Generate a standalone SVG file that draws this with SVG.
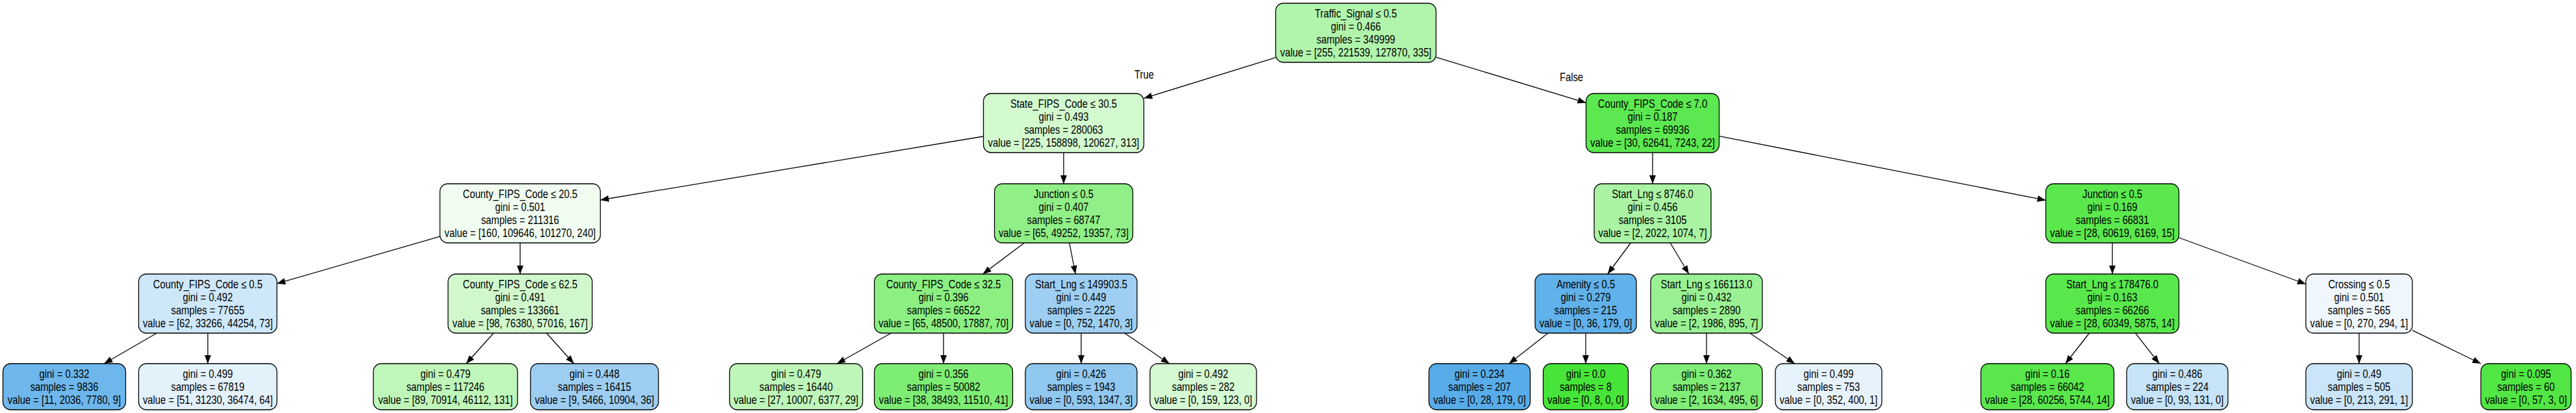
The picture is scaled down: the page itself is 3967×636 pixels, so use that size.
<svg xmlns="http://www.w3.org/2000/svg" width="3967" height="636" viewBox="0 0 3967 636">
<defs>
<marker id="ah" markerUnits="userSpaceOnUse" markerWidth="13" markerHeight="10" refX="13" refY="5" orient="auto">
<path d="M0,0 L13,5 L0,10 z" fill="#000"/>
</marker>
</defs>
<style>
.n rect { stroke:#000; stroke-width:1.3; }
text { font-family:"Liberation Sans", Arial, Helvetica, sans-serif; font-size:17.5px; text-anchor:middle; fill:#000; }
#edges line { stroke:#000; stroke-width:1.3; fill:none; marker-end:url(#ah); }
</style>
<rect width="3967" height="636" fill="#fff"/>
<g id="edges">
<line x1="1964.5" y1="88.65" x2="1761.5" y2="151.35"/>
<line x1="2211.5" y1="88.06" x2="2442.5" y2="158.32"/>
<line x1="1514.5" y1="210.01" x2="924.5" y2="307.99"/>
<line x1="1638" y1="235" x2="1638" y2="283"/>
<line x1="2545" y1="235" x2="2545" y2="283"/>
<line x1="2647.5" y1="209.62" x2="3150.5" y2="308.38"/>
<line x1="677.5" y1="364.19" x2="426.5" y2="436.72"/>
<line x1="801" y1="374" x2="801" y2="422"/>
<line x1="1577.45" y1="374" x2="1513.55" y2="422"/>
<line x1="1646.84" y1="374" x2="1656.16" y2="422"/>
<line x1="2511.29" y1="374" x2="2475.71" y2="422"/>
<line x1="2572.17" y1="374" x2="2600.83" y2="422"/>
<line x1="3253" y1="374" x2="3253" y2="422"/>
<line x1="3355.5" y1="365.99" x2="3551" y2="437.5"/>
<line x1="241.44" y1="513" x2="160.28" y2="560"/>
<line x1="320" y1="513" x2="320" y2="560"/>
<line x1="760.12" y1="513" x2="717.89" y2="560"/>
<line x1="841.71" y1="513" x2="883.75" y2="560"/>
<line x1="1372.3" y1="513" x2="1288.95" y2="560"/>
<line x1="1453" y1="513" x2="1453" y2="560"/>
<line x1="1665" y1="513" x2="1665" y2="560"/>
<line x1="1731.83" y1="513" x2="1800.87" y2="560"/>
<line x1="2383.88" y1="513" x2="2323.84" y2="560"/>
<line x1="2442" y1="513" x2="2442" y2="560"/>
<line x1="2628" y1="513" x2="2628" y2="560"/>
<line x1="2694.83" y1="513" x2="2763.87" y2="560"/>
<line x1="3217.45" y1="513" x2="3180.73" y2="560"/>
<line x1="3288.55" y1="513" x2="3325.27" y2="560"/>
<line x1="3633" y1="513" x2="3633" y2="560"/>
<line x1="3715" y1="508.6" x2="3820.5" y2="560"/>
<g transform="translate(1762 0) scale(.845 1)"><text x="0" y="121">True</text></g>
<g transform="translate(2420 0) scale(.845 1)"><text x="0" y="125">False</text></g>
</g>

<g id="n0" class="n"><rect x="1964.5" y="5" width="247" height="91" rx="12" fill="#b1f4ac"/>
<g transform="translate(2088 0) scale(.845 1)"><text x="0" y="27">Traffic_Signal ≤ 0.5</text><text x="0" y="47">gini = 0.466</text><text x="0" y="67">samples = 349999</text><text x="0" y="87">value = [255, 221539, 127870, 335]</text></g></g>

<g id="n1" class="n"><rect x="1514.5" y="144" width="247" height="91" rx="12" fill="#d3f9cf"/>
<g transform="translate(1638 0) scale(.845 1)"><text x="0" y="166">State_FIPS_Code ≤ 30.5</text><text x="0" y="186">gini = 0.493</text><text x="0" y="206">samples = 280063</text><text x="0" y="226">value = [225, 158898, 120627, 313]</text></g></g>

<g id="n16" class="n"><rect x="2442.5" y="144" width="205" height="91" rx="12" fill="#5ce850"/>
<g transform="translate(2545 0) scale(.845 1)"><text x="0" y="166">County_FIPS_Code ≤ 7.0</text><text x="0" y="186">gini = 0.187</text><text x="0" y="206">samples = 69936</text><text x="0" y="226">value = [30, 62641, 7243, 22]</text></g></g>

<g id="n2" class="n"><rect x="677.5" y="283" width="247" height="91" rx="12" fill="#f1fdf0"/>
<g transform="translate(801 0) scale(.845 1)"><text x="0" y="305">County_FIPS_Code ≤ 20.5</text><text x="0" y="325">gini = 0.501</text><text x="0" y="345">samples = 211316</text><text x="0" y="365">value = [160, 109646, 101270, 240]</text></g></g>

<g id="n9" class="n"><rect x="1531.5" y="283" width="213" height="91" rx="12" fill="#90ef87"/>
<g transform="translate(1638 0) scale(.845 1)"><text x="0" y="305">Junction ≤ 0.5</text><text x="0" y="325">gini = 0.407</text><text x="0" y="345">samples = 68747</text><text x="0" y="365">value = [65, 49252, 19357, 73]</text></g></g>

<g id="n17" class="n"><rect x="2455" y="283" width="180" height="91" rx="12" fill="#a9f3a3"/>
<g transform="translate(2545 0) scale(.845 1)"><text x="0" y="305">Start_Lng ≤ 8746.0</text><text x="0" y="325">gini = 0.456</text><text x="0" y="345">samples = 3105</text><text x="0" y="365">value = [2, 2022, 1074, 7]</text></g></g>

<g id="n24" class="n"><rect x="3150.5" y="283" width="205" height="91" rx="12" fill="#5ae84d"/>
<g transform="translate(3253 0) scale(.845 1)"><text x="0" y="305">Junction ≤ 0.5</text><text x="0" y="325">gini = 0.169</text><text x="0" y="345">samples = 66831</text><text x="0" y="365">value = [28, 60619, 6169, 15]</text></g></g>

<g id="n3" class="n"><rect x="213.5" y="422" width="213" height="91" rx="12" fill="#cee7f9"/>
<g transform="translate(320 0) scale(.845 1)"><text x="0" y="444">County_FIPS_Code ≤ 0.5</text><text x="0" y="464">gini = 0.492</text><text x="0" y="484">samples = 77655</text><text x="0" y="504">value = [62, 33266, 44254, 73]</text></g></g>

<g id="n6" class="n"><rect x="690" y="422" width="222" height="91" rx="12" fill="#d1f8cd"/>
<g transform="translate(801 0) scale(.845 1)"><text x="0" y="444">County_FIPS_Code ≤ 62.5</text><text x="0" y="464">gini = 0.491</text><text x="0" y="484">samples = 133661</text><text x="0" y="504">value = [98, 76380, 57016, 167]</text></g></g>

<g id="n10" class="n"><rect x="1346.5" y="422" width="213" height="91" rx="12" fill="#8bef82"/>
<g transform="translate(1453 0) scale(.845 1)"><text x="0" y="444">County_FIPS_Code ≤ 32.5</text><text x="0" y="464">gini = 0.396</text><text x="0" y="484">samples = 66522</text><text x="0" y="504">value = [65, 48500, 17887, 70]</text></g></g>

<g id="n13" class="n"><rect x="1579" y="422" width="172" height="91" rx="12" fill="#9ecff2"/>
<g transform="translate(1665 0) scale(.845 1)"><text x="0" y="444">Start_Lng ≤ 149903.5</text><text x="0" y="464">gini = 0.449</text><text x="0" y="484">samples = 2225</text><text x="0" y="504">value = [0, 752, 1470, 3]</text></g></g>

<g id="n18" class="n"><rect x="2364" y="422" width="156" height="91" rx="12" fill="#61b1ea"/>
<g transform="translate(2442 0) scale(.845 1)"><text x="0" y="444">Amenity ≤ 0.5</text><text x="0" y="464">gini = 0.279</text><text x="0" y="484">samples = 215</text><text x="0" y="504">value = [0, 36, 179, 0]</text></g></g>

<g id="n21" class="n"><rect x="2542" y="422" width="172" height="91" rx="12" fill="#9af193"/>
<g transform="translate(2628 0) scale(.845 1)"><text x="0" y="444">Start_Lng ≤ 166113.0</text><text x="0" y="464">gini = 0.432</text><text x="0" y="484">samples = 2890</text><text x="0" y="504">value = [2, 1986, 895, 7]</text></g></g>

<g id="n25" class="n"><rect x="3150.5" y="422" width="205" height="91" rx="12" fill="#59e84c"/>
<g transform="translate(3253 0) scale(.845 1)"><text x="0" y="444">Start_Lng ≤ 178476.0</text><text x="0" y="464">gini = 0.163</text><text x="0" y="484">samples = 66266</text><text x="0" y="504">value = [28, 60349, 5875, 14]</text></g></g>

<g id="n28" class="n"><rect x="3551" y="422" width="164" height="91" rx="12" fill="#eff7fd"/>
<g transform="translate(3633 0) scale(.845 1)"><text x="0" y="444">Crossing ≤ 0.5</text><text x="0" y="464">gini = 0.501</text><text x="0" y="484">samples = 565</text><text x="0" y="504">value = [0, 270, 294, 1]</text></g></g>

<g id="n4" class="n"><rect x="4.5" y="560" width="189" height="71" rx="12" fill="#6db7ec"/>
<g transform="translate(99 0) scale(.845 1)"><text x="0" y="582">gini = 0.332</text><text x="0" y="602">samples = 9836</text><text x="0" y="622">value = [11, 2036, 7780, 9]</text></g></g>

<g id="n5" class="n"><rect x="213.5" y="560" width="213" height="71" rx="12" fill="#e3f1fb"/>
<g transform="translate(320 0) scale(.845 1)"><text x="0" y="582">gini = 0.499</text><text x="0" y="602">samples = 67819</text><text x="0" y="622">value = [51, 31230, 36474, 64]</text></g></g>

<g id="n7" class="n"><rect x="575" y="560" width="222" height="71" rx="12" fill="#bff6ba"/>
<g transform="translate(686 0) scale(.845 1)"><text x="0" y="582">gini = 0.479</text><text x="0" y="602">samples = 117246</text><text x="0" y="622">value = [89, 70914, 46112, 131]</text></g></g>

<g id="n8" class="n"><rect x="817" y="560" width="197" height="71" rx="12" fill="#9dcef2"/>
<g transform="translate(915.5 0) scale(.845 1)"><text x="0" y="582">gini = 0.448</text><text x="0" y="602">samples = 16415</text><text x="0" y="622">value = [9, 5466, 10904, 36]</text></g></g>

<g id="n11" class="n"><rect x="1123.5" y="560" width="205" height="71" rx="12" fill="#bdf6b8"/>
<g transform="translate(1226 0) scale(.845 1)"><text x="0" y="582">gini = 0.479</text><text x="0" y="602">samples = 16440</text><text x="0" y="622">value = [27, 10007, 6377, 29]</text></g></g>

<g id="n12" class="n"><rect x="1346.5" y="560" width="213" height="71" rx="12" fill="#7eed74"/>
<g transform="translate(1453 0) scale(.845 1)"><text x="0" y="582">gini = 0.356</text><text x="0" y="602">samples = 50082</text><text x="0" y="622">value = [38, 38493, 11510, 41]</text></g></g>

<g id="n14" class="n"><rect x="1579" y="560" width="172" height="71" rx="12" fill="#90c8f0"/>
<g transform="translate(1665 0) scale(.845 1)"><text x="0" y="582">gini = 0.426</text><text x="0" y="602">samples = 1943</text><text x="0" y="622">value = [0, 593, 1347, 3]</text></g></g>

<g id="n15" class="n"><rect x="1771" y="560" width="164" height="71" rx="12" fill="#d5f9d2"/>
<g transform="translate(1853 0) scale(.845 1)"><text x="0" y="582">gini = 0.492</text><text x="0" y="602">samples = 282</text><text x="0" y="622">value = [0, 159, 123, 0]</text></g></g>

<g id="n19" class="n"><rect x="2200.5" y="560" width="156" height="71" rx="12" fill="#58ace9"/>
<g transform="translate(2278.5 0) scale(.845 1)"><text x="0" y="582">gini = 0.234</text><text x="0" y="602">samples = 207</text><text x="0" y="622">value = [0, 28, 179, 0]</text></g></g>

<g id="n20" class="n"><rect x="2376.5" y="560" width="131" height="71" rx="12" fill="#47e539"/>
<g transform="translate(2442 0) scale(.845 1)"><text x="0" y="582">gini = 0.0</text><text x="0" y="602">samples = 8</text><text x="0" y="622">value = [0, 8, 0, 0]</text></g></g>

<g id="n22" class="n"><rect x="2542" y="560" width="172" height="71" rx="12" fill="#7fed76"/>
<g transform="translate(2628 0) scale(.845 1)"><text x="0" y="582">gini = 0.362</text><text x="0" y="602">samples = 2137</text><text x="0" y="622">value = [2, 1634, 495, 6]</text></g></g>

<g id="n23" class="n"><rect x="2734" y="560" width="164" height="71" rx="12" fill="#e7f3fc"/>
<g transform="translate(2816 0) scale(.845 1)"><text x="0" y="582">gini = 0.499</text><text x="0" y="602">samples = 753</text><text x="0" y="622">value = [0, 352, 400, 1]</text></g></g>

<g id="n26" class="n"><rect x="3050.5" y="560" width="205" height="71" rx="12" fill="#59e74c"/>
<g transform="translate(3153 0) scale(.845 1)"><text x="0" y="582">gini = 0.16</text><text x="0" y="602">samples = 66042</text><text x="0" y="622">value = [28, 60256, 5744, 14]</text></g></g>

<g id="n27" class="n"><rect x="3275" y="560" width="156" height="71" rx="12" fill="#c6e3f7"/>
<g transform="translate(3353 0) scale(.845 1)"><text x="0" y="582">gini = 0.486</text><text x="0" y="602">samples = 224</text><text x="0" y="622">value = [0, 93, 131, 0]</text></g></g>

<g id="n29" class="n"><rect x="3551" y="560" width="164" height="71" rx="12" fill="#cae5f8"/>
<g transform="translate(3633 0) scale(.845 1)"><text x="0" y="582">gini = 0.49</text><text x="0" y="602">samples = 505</text><text x="0" y="622">value = [0, 213, 291, 1]</text></g></g>

<g id="n30" class="n"><rect x="3820.5" y="560" width="139" height="71" rx="12" fill="#51e643"/>
<g transform="translate(3890 0) scale(.845 1)"><text x="0" y="582">gini = 0.095</text><text x="0" y="602">samples = 60</text><text x="0" y="622">value = [0, 57, 3, 0]</text></g></g>
</svg>
